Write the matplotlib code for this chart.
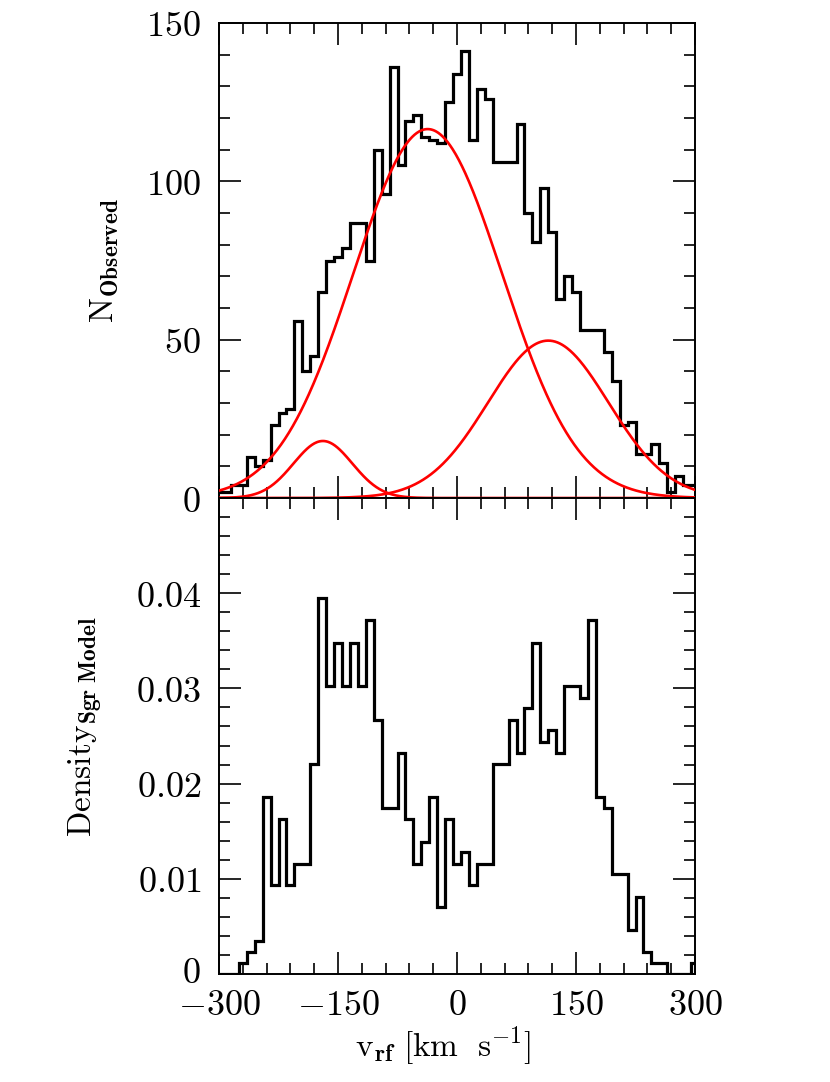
import numpy as np
import matplotlib
matplotlib.use("Agg")
import matplotlib.pyplot as plt
import matplotlib.transforms as mtransforms
from matplotlib.ticker import MultipleLocator

plt.rcParams['mathtext.fontset'] = 'cm'
plt.rcParams['font.family'] = ['DejaVu Serif']

# ---------------- data ----------------
bin_centers = list(range(-300, 301, 10))

n_observed = [2, 2, 4, 4, 13, 10, 12, 23, 27, 28,
              56, 40, 45, 65, 75, 76, 79, 87, 87, 75,
              110, 96, 136, 105, 119, 121, 114, 113, 112, 125,
              134, 141, 113, 129, 126, 106, 106, 106, 118, 90,
              81, 98, 84, 63, 70, 65, 53, 53, 53, 46,
              37, 23, 24, 14, 14, 17, 11, 2, 7, 4,
              4]

density_sgr = [0.0, 0.0, 0.0, 0.0012, 0.0023, 0.0035, 0.0186, 0.0093, 0.0163, 0.0093,
               0.0116, 0.0116, 0.0221, 0.0395, 0.0302, 0.0348, 0.0302, 0.0348, 0.0302, 0.0372,
               0.0267, 0.0174, 0.0174, 0.0232, 0.0163, 0.0116, 0.0139, 0.0186, 0.0070, 0.0163,
               0.0116, 0.0128, 0.0093, 0.0116, 0.0116, 0.0221, 0.0221, 0.0267, 0.0232, 0.0279,
               0.0348, 0.0244, 0.0256, 0.0232, 0.0302, 0.0302, 0.0290, 0.0372, 0.0186, 0.0174,
               0.0105, 0.0105, 0.0046, 0.0081, 0.0023, 0.0012, 0.0012, 0.0, 0.0, 0.0,
               0.0012]

# Gaussian model components: (amplitude, mean, sigma)
gauss_amp = [18.0, 116.5, 49.7]
gauss_mean = [-169.0, -37.0, 115.0]
gauss_sigma = [37.0, 94.0, 76.0]

x_ticks = [-300, -150, 0, 150, 300]
x_ticklabels = [r'$-300$', r'$-150$', r'$0$', r'$150$', r'$300$']
top_yticks = [0, 50, 100, 150]
top_yticklabels = [r'$0$', r'$50$', r'$100$', r'$150$']
bot_yticks = [0, 0.01, 0.02, 0.03, 0.04]
bot_yticklabels = [r'$0$', r'$0.01$', r'$0.02$', r'$0.03$', r'$0.04$']

# ---------------- figure ----------------
W, H = 830, 1082
fig = plt.figure(figsize=(W / 100, H / 100), dpi=100)
L, R = 219 / W, 695 / W
y_top, y_mid, y_bot = 1 - 23 / H, 1 - 498 / H, 1 - 974 / H
ax1 = fig.add_axes([L, y_mid, R - L, y_top - y_mid])
ax2 = fig.add_axes([L, y_bot, R - L, y_mid - y_bot])

centers = np.array(bin_centers, dtype=float)
edges = np.concatenate([centers - 5, [centers[-1] + 5]])

hist_lw = 2.3
ax1.stairs(n_observed, edges, color='black', lw=hist_lw, baseline=None, zorder=3)
xx = np.linspace(-300, 300, 600)
for a, m, s in zip(gauss_amp, gauss_mean, gauss_sigma):
    ax1.plot(xx, a * np.exp(-0.5 * ((xx - m) / s) ** 2), color='#ff0000', lw=1.9, zorder=4)
ax1.axhline(0, color='#ff0000', lw=1.2, zorder=4)

ax2.stairs(density_sgr, edges, color='black', lw=hist_lw, baseline=None, zorder=3)

for ax in (ax1, ax2):
    ax.set_xlim(-300, 300)
    ax.set_xticks(x_ticks)
    ax.xaxis.set_minor_locator(MultipleLocator(30))
    ax.tick_params(which='both', direction='in', top=True, right=True,
                   bottom=True, left=True, width=1.2, labelsize=26, pad=13)
    ax.tick_params(which='major', length=16)
    ax.tick_params(which='minor', length=8)
    for sp in ax.spines.values():
        sp.set_linewidth(1.4)

ax1.set_ylim(0, 150)
ax1.set_yticks(top_yticks)
ax1.set_yticklabels(top_yticklabels)
ax1.yaxis.set_minor_locator(MultipleLocator(10))
ax1.tick_params(labelbottom=False)

ax2.set_ylim(0, 0.05)
ax2.set_yticks(bot_yticks)
ax2.set_yticklabels(bot_yticklabels)
ax2.yaxis.set_minor_locator(MultipleLocator(0.002))
ax2.set_xticklabels(x_ticklabels)
ax2.tick_params(axis='x', pad=10)

# nudge the bottom "0" label up slightly so it clears the x tick labels
zero_lbl = ax2.get_yticklabels()[0]
zero_lbl.set_transform(zero_lbl.get_transform() +
                       mtransforms.ScaledTranslation(0, 3 / 72, fig.dpi_scale_trans))

ax1.set_ylabel(r'$\mathrm{N}_{\mathbf{Observed}}$', fontsize=24)
ax1.yaxis.set_label_coords(-0.205, 0.5)
ax2.set_ylabel(r'$\mathrm{Density}_{\mathbf{Sgr\ Model}}$', fontsize=24)
ax2.yaxis.set_label_coords(-0.24, 0.52)
ax2.set_xlabel(r'$\mathrm{v}_{\mathbf{rf}}\ \mathrm{[km\ \ s^{-1}]}$', fontsize=24)
ax2.xaxis.set_label_coords(0.47, -0.105)

fig.savefig('out.png', dpi=100)
